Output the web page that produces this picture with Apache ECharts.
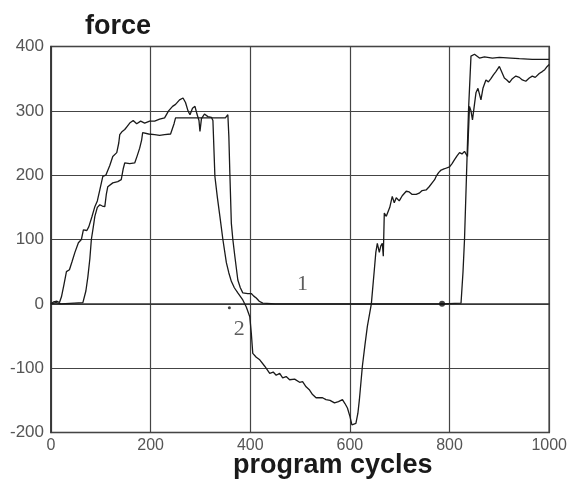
<!DOCTYPE html>
<html>
<head>
<meta charset="utf-8">
<script src="https://cdn.jsdelivr.net/npm/echarts@6/dist/echarts.min.js"></script>
<style>html,body{margin:0;padding:0;background:#fff;}#c{width:570px;height:482px;}</style>
</head>
<body>
<div id="c"></div>
<script>
const xTicks = [0, 200, 400, 600, 800, 1000];
const yTicks = [-200, -100, 0, 100, 200, 300, 400];

const curve1 = [[0,0],[10,2],[20,0],[64,2],[70,20],[74,42],[78,70],[81,100],[85,120],[88,136],[93,150],[98,154],[103,152],[108,151],[111,170],[114,182],[124,188],[134,190],[141,193],[145,210],[148,219],[158,218],[168,219],[173,230],[178,242],[182,255],[184,266],[196,264],[208,263],[218,262],[228,263],[240,264],[244,265],[247,280],[250,289],[270,289],[290,289],[310,289],[330,289],[350,289],[355,294],[357,260],[359,203],[362,125],[365,100],[369,74],[375,37],[380,25],[385,17],[395,16],[402,16],[407,12],[412,9],[418,4],[425,1],[450,0],[500,0],[600,0],[700,0],[785,0],[823,1],[827,50],[830,100],[834,200],[838,300],[843,385],[850,388],[860,382],[870,384],[886,382],[900,383],[923,382],[940,381],[966,380],[1000,380]];

const curve2 = [[0,0],[5,3],[12,4],[17,2],[21,11],[26,30],[31,50],[37,53],[42,65],[48,80],[55,95],[61,100],[65,115],[68,118],[72,114],[76,120],[82,135],[88,151],[93,160],[98,177],[104,198],[110,200],[114,200],[118,215],[124,229],[132,235],[136,250],[138,263],[143,268],[148,271],[153,276],[158,281],[165,285],[172,280],[180,284],[188,281],[198,284],[208,284],[218,287],[228,289],[236,300],[244,307],[250,310],[258,317],[265,320],[270,313],[275,300],[279,294],[284,304],[289,307],[293,295],[297,285],[299,268],[302,288],[308,295],[315,291],[322,290],[325,285],[329,198],[334,165],[339,136],[345,100],[352,64],[357,48],[362,35],[368,25],[375,17],[385,6],[392,-5],[399,-20],[402,-45],[405,-77],[412,-83],[419,-87],[429,-97],[439,-108],[446,-106],[452,-111],[459,-108],[465,-115],[472,-113],[479,-118],[489,-117],[499,-122],[505,-121],[512,-129],[519,-134],[525,-141],[532,-146],[545,-146],[552,-149],[560,-150],[569,-154],[577,-152],[585,-149],[590,-155],[595,-162],[600,-175],[604,-188],[607,-191],[612,-186],[616,-170],[619,-149],[625,-97],[630,-65],[635,-35],[643,0],[649,53],[652,80],[655,94],[659,80],[662,90],[665,94],[667,74],[669,141],[673,136],[676,135],[680,150],[685,167],[689,157],[693,165],[699,160],[705,168],[713,175],[719,174],[725,170],[733,170],[739,172],[745,176],[753,177],[759,182],[765,188],[770,193],[773,198],[778,204],[783,208],[790,210],[800,213],[805,218],[810,224],[815,230],[820,235],[825,233],[830,237],[833,240],[836,229],[840,307],[843,300],[846,286],[850,310],[853,328],[857,335],[860,338],[863,317],[867,335],[873,348],[878,345],[883,350],[888,356],[893,361],[900,369],[905,360],[910,351],[915,348],[920,344],[926,350],[933,354],[940,352],[946,348],[953,346],[960,351],[966,354],[972,352],[980,358],[986,361],[991,364],[996,369],[1000,372]];

const markers = [[785,0],[358,-6]];
const curveLabels = [{text:'1', x:505, y:30}, {text:'2', x:378, y:-40}];

const chart = echarts.init(document.getElementById('c'), null, {renderer:'canvas'});
const lineStyle = {color:'#1a1a1a', width:1.3};
chart.setOption({
  animation:false,
  backgroundColor:'#fff',
  title:{text:'force', left:80, top:8, textStyle:{fontFamily:'Liberation Sans', fontWeight:'bold', fontSize:27, color:'#1a1a1a'}},
  graphic:[{type:'text', left:233, top:452, style:{text:'program cycles', font:'bold 27px "Liberation Sans"', fill:'#1a1a1a'}}],
  grid:{left:51, right:20, top:46.5, bottom:49.5, show:true, borderColor:'#333', borderWidth:1.5, backgroundColor:'transparent'},
  xAxis:{type:'value', min:0, max:1000, interval:200,
    axisLine:{show:true, lineStyle:{color:'#333', width:1.5}},
    axisTick:{show:false},
    splitLine:{show:true, lineStyle:{color:'#444', width:1.2}},
    axisLabel:{margin:5, fontFamily:'Liberation Sans', fontSize:16, color:'#555',
      formatter:v=> xTicks.includes(v) ? String(v) : ''}},
  yAxis:{type:'value', min:-200, max:400, interval:100,
    axisLine:{show:true, lineStyle:{color:'#333', width:1.5}},
    axisTick:{show:false},
    splitLine:{show:true, lineStyle:{color:'#444', width:1.2}},
    axisLabel:{margin:7, fontFamily:'Liberation Sans', fontSize:17, color:'#555',
      formatter:v=> yTicks.includes(v) ? String(v) : ''}},
  series:[
    {type:'line', data:curve1, showSymbol:false, lineStyle:lineStyle, z:3},
    {type:'line', data:curve2, showSymbol:false, lineStyle:lineStyle, z:3},
    {type:'scatter', data:markers, symbolSize:(v,p)=>p.dataIndex===0?6:3, itemStyle:{color:'#111'}, z:4},
    {type:'scatter', data:curveLabels.map(d=>[d.x,d.y]), symbolSize:0,
      label:{show:true, position:'inside', formatter:p=>curveLabels[p.dataIndex].text,
        fontFamily:'Liberation Serif', fontSize:22, color:'#333'}, z:5}
  ]
});
</script>
</body>
</html>
